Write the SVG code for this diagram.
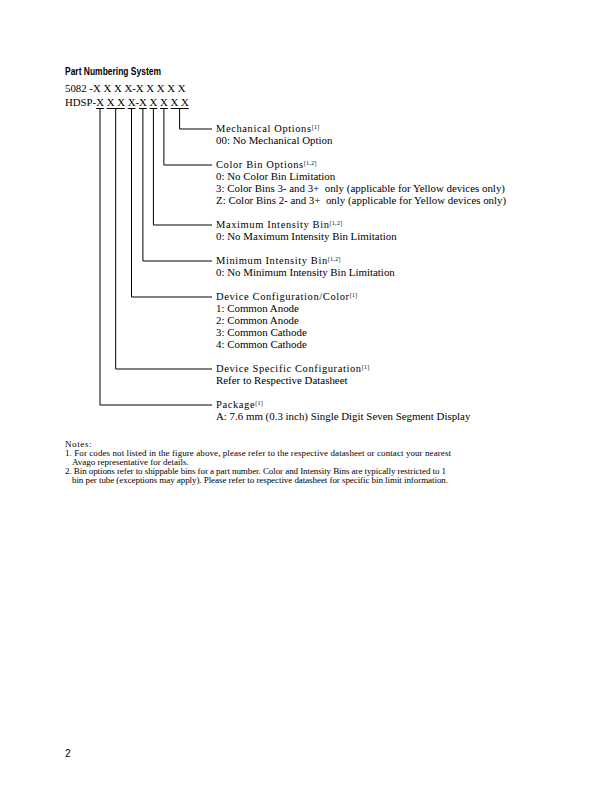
<svg xmlns="http://www.w3.org/2000/svg" width="612" height="792" viewBox="0 0 612 792">
<style>
  .serif { font-family: "Liberation Serif", "Times New Roman", serif; fill: #000; }
  .body { font-size: 10.9px; }
  .head { font-size: 10.5px; letter-spacing: 0.6px; }
  .sup { font-size: 6px; letter-spacing: 0.3px; }
  .pn { font-size: 10.8px; }
  .note { font-size: 9px; }
  .title { font-family: "Liberation Sans", Arial, sans-serif; font-weight: bold; font-size: 10px; fill: #000; }
  .conn { fill: none; stroke: #000; stroke-width: 1; }
</style>
<rect width="612" height="792" fill="#fff"/>

<g id="title">
  <text class="title" x="65" y="75" textLength="96" lengthAdjust="spacingAndGlyphs">Part Numbering System</text>
</g>

<g id="part-number">
  <text class="serif pn" x="65" y="92" xml:space="preserve">5082 -X X X X-X X X X X</text>
  <text class="serif pn" x="65" y="106">HDSP-X X X X-X X X X X</text>
</g>

<g id="connectors">
  <path class="conn" d="M96.1 108.5H103.9 M106.6 108.5H124.9 M127.6 108.5H135.4 M139 108.5H146.8 M149.5 108.5H157.3 M160 108.5H167.8 M170.5 108.5H188.8"/>
  <path class="conn" d="M179.6 108.5V129H212"/>
  <path class="conn" d="M163.9 108.5V165H212"/>
  <path class="conn" d="M153.4 108.5V225H212"/>
  <path class="conn" d="M142.9 108.5V261H212"/>
  <path class="conn" d="M131.5 108.5V297H212"/>
  <path class="conn" d="M115.7 108.5V369H212"/>
  <path class="conn" d="M100 108.5V405H212"/>
</g>

<g id="mechanical-options">
  <text class="serif head" x="216" y="132">Mechanical Options<tspan class="sup" dy="-3">[1]</tspan></text>
  <text class="serif body" x="216" y="144">00: No Mechanical Option</text>
</g>

<g id="color-bin-options">
  <text class="serif head" x="216" y="168">Color Bin Options<tspan class="sup" dy="-3">[1,2]</tspan></text>
  <text class="serif body" x="216" y="180">0: No Color Bin Limitation</text>
  <text class="serif body" x="216" y="192" xml:space="preserve">3: Color Bins 3- and 3+  only (applicable for Yellow devices only)</text>
  <text class="serif body" x="216" y="204" xml:space="preserve">Z: Color Bins 2- and 3+  only (applicable for Yellow devices only)</text>
</g>

<g id="maximum-intensity-bin">
  <text class="serif head" x="216" y="228">Maximum Intensity Bin<tspan class="sup" dy="-3">[1,2]</tspan></text>
  <text class="serif body" x="216" y="240">0: No Maximum Intensity Bin Limitation</text>
</g>

<g id="minimum-intensity-bin">
  <text class="serif head" x="216" y="264">Minimum Intensity Bin<tspan class="sup" dy="-3">[1,2]</tspan></text>
  <text class="serif body" x="216" y="276">0: No Minimum Intensity Bin Limitation</text>
</g>

<g id="device-configuration">
  <text class="serif head" x="216" y="300">Device Configuration/Color<tspan class="sup" dy="-3">[1]</tspan></text>
  <text class="serif body" x="216" y="312">1: Common Anode</text>
  <text class="serif body" x="216" y="324">2: Common Anode</text>
  <text class="serif body" x="216" y="336">3: Common Cathode</text>
  <text class="serif body" x="216" y="348">4: Common Cathode</text>
</g>

<g id="device-specific-configuration">
  <text class="serif head" x="216" y="372">Device Specific Configuration<tspan class="sup" dy="-3">[1]</tspan></text>
  <text class="serif body" x="216" y="384">Refer to Respective Datasheet</text>
</g>

<g id="package">
  <text class="serif head" x="216" y="408">Package<tspan class="sup" dy="-3">[1]</tspan></text>
  <text class="serif body" x="216" y="420">A: 7.6 mm (0.3 inch) Single Digit Seven Segment Display</text>
</g>

<g id="notes">
  <text class="serif note" x="65" y="447" letter-spacing="0.6">Notes:</text>
  <text class="serif note" x="65" y="456" textLength="386" lengthAdjust="spacing">1. For codes not listed in the figure above, please refer to the respective datasheet or contact your nearest</text>
  <text class="serif note" x="72" y="465">Avago representative for details.</text>
  <text class="serif note" x="65" y="474" textLength="381" lengthAdjust="spacing">2. Bin options refer to shippable bins for a part number. Color and Intensity Bins are typically restricted to 1</text>
  <text class="serif note" x="72" y="483" textLength="376" lengthAdjust="spacing">bin per tube (exceptions may apply). Please refer to respective datasheet for specific bin limit information.</text>
</g>

<g id="page-number">
  <text x="65" y="757" font-family="Liberation Sans, Arial, sans-serif" font-size="10" fill="#000">2</text>
</g>
</svg>
